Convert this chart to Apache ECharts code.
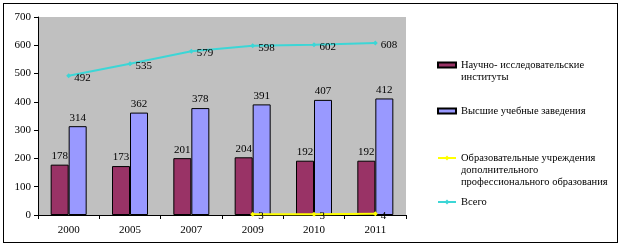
<!DOCTYPE html>
<html><head><meta charset="utf-8">
<script src="https://cdn.jsdelivr.net/npm/echarts@6/dist/echarts.min.js"></script>
<style>html,body{margin:0;padding:0;background:#fff}#c{width:623px;height:248px}
#frame{position:absolute;left:3px;top:3px;width:615px;height:240px;border:1px solid #000;box-sizing:border-box;pointer-events:none}</style>
</head><body><div id="c"></div><div id="frame"></div>
<script>
const categories = ['2000','2005','2007','2009','2010','2011'];
const nii = [178,173,201,204,192,192];
const vuz = [314,362,378,391,407,412];
const dpo = [null,null,null,3,3,4];
const total = [492,535,579,598,602,608];
const yTicks = [0,100,200,300,400,500,600,700];
const names = ['Научно- исследовательские\nинституты','Высшие учебные заведения','Образовательные учреждения\nдополнительного\nпрофессионального образования','Всего'];

const FONT = "'Liberation Serif', serif";
const lbl = {color:'#000', fontFamily:FONT, fontSize:11};
const chart = echarts.init(document.getElementById('c'));
function legendItem(name, top, icon){
  const n = name.split('\n').length;
  const pad = '\n'.repeat(n-1);
  return {orient:'vertical', left:432, top:top, itemWidth:18, itemHeight:icon==='rect'?5:6, data:[{name:name, icon:icon}],
    formatter: s => pad + s, selectedMode:false,
    textStyle:{fontFamily:FONT, fontSize:10.5, color:'#000', lineHeight:12}};
}
chart.setOption({
  animation:false,
  legend:[legendItem(names[0],42,'rect'), legendItem(names[1],100,'rect'), legendItem(names[2],123), legendItem(names[3],191)],
  grid:{left:38, top:17, width:368, height:198, backgroundColor:'#C0C0C0', show:true, borderWidth:0},
  xAxis:{type:'category', data:categories,
    axisLine:{lineStyle:{color:'#000'}}, axisTick:{show:true, length:4, lineStyle:{color:'#000'}},
    axisLabel:{color:'#000', fontFamily:FONT, fontSize:11, margin:10}},
  yAxis:{type:'value', min:yTicks[0], max:yTicks[yTicks.length-1], interval:100,
    axisLine:{show:true, lineStyle:{color:'#000'}}, axisTick:{show:true, length:4, lineStyle:{color:'#000'}},
    splitLine:{show:false},
    axisLabel:{color:'#000', fontFamily:FONT, fontSize:11, margin:7}},
  series:[
    {name:names[0], type:'bar', data:nii, barWidth:18, barGap:'0%',
     itemStyle:{color:'#993366', borderColor:'#000', borderWidth:1},
     label:{show:true, position:'top', distance:3, ...lbl}},
    {name:names[1], type:'bar', data:vuz, barWidth:18,
     itemStyle:{color:'#9999FF', borderColor:'#000', borderWidth:1},
     label:{show:true, position:'top', distance:3, ...lbl}},
    {name:names[2], type:'line', data:dpo, symbol:'diamond', symbolSize:5,
     lineStyle:{color:'#FFFF00', width:2}, itemStyle:{color:'#FFFF00'},
     label:{show:true, position:'right', distance:3, offset:[0,2], ...lbl}},
    {name:names[3], type:'line', data:total, symbol:'diamond', symbolSize:5,
     lineStyle:{color:'#3CD6D6', width:2}, itemStyle:{color:'#3CD6D6'},
     label:{show:true, position:'right', distance:3, offset:[0,2], ...lbl}}
  ]
});
</script></body></html>
